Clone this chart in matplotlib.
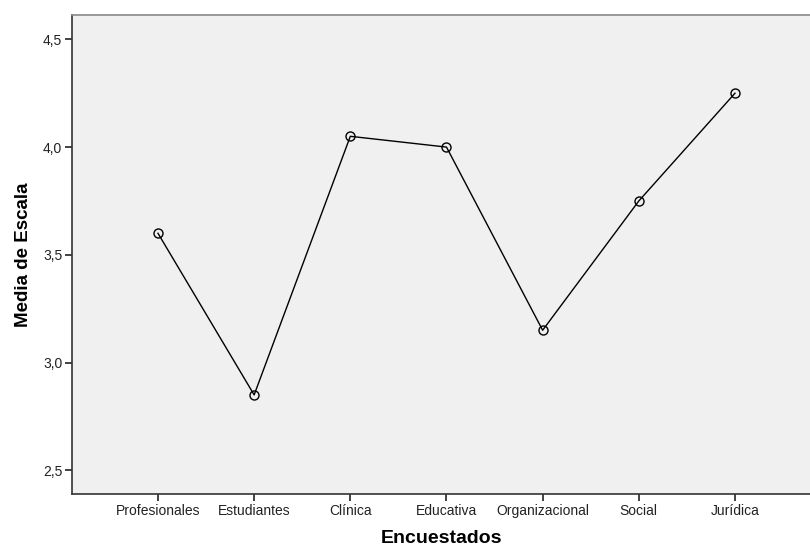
import matplotlib
matplotlib.use('Agg')
from matplotlib import pyplot as plt

categorias = ['Profesionales', 'Estudiantes', 'Clínica', 'Educativa',
              'Organizacional', 'Social', 'Jurídica']
medias = [3.60, 2.85, 4.05, 4.00, 3.15, 3.75, 4.25]
yticks = [2.5, 3.0, 3.5, 4.0, 4.5]
ytick_labels = ['2,5', '3,0', '3,5', '4,0', '4,5']

plt.rcParams['font.family'] = ['Liberation Sans', 'DejaVu Sans']

fig = plt.figure(figsize=(8.1, 5.49), dpi=100)
ax = fig.add_axes([72 / 810, 1 - 494 / 549, 738 / 810, 479 / 549])
ax.set_facecolor('#f0f0f0')

x = list(range(len(categorias)))
ax.plot(x, medias, color='black', linewidth=1.0, marker='o', markersize=6.5,
        markerfacecolor='none', markeredgecolor='black', markeredgewidth=1.0)

ax.set_xlim(-0.894, 6.78)
ax.set_ylim(2.39, 4.613)
ax.set_xticks(x)
ax.set_xticklabels(categorias, fontsize=10, color='#222222')
ax.set_yticks(yticks)
ax.set_yticklabels(ytick_labels, fontsize=10, color='#222222')
ax.tick_params(direction='out', length=5, width=1.3, color='#333333', pad=2)

ax.spines['left'].set_color('#333333')
ax.spines['bottom'].set_color('#333333')
ax.spines['left'].set_linewidth(1.2)
ax.spines['bottom'].set_linewidth(1.2)
ax.spines['top'].set_color('#888888')
ax.spines['top'].set_linewidth(1.2)
ax.spines['right'].set_visible(False)

ax.set_xlabel('Encuestados', fontsize=14, fontweight='bold', labelpad=9)
ax.set_ylabel('Media de Escala', fontsize=13.5, fontweight='bold', labelpad=8)

fig.savefig('out.png', dpi=100)
